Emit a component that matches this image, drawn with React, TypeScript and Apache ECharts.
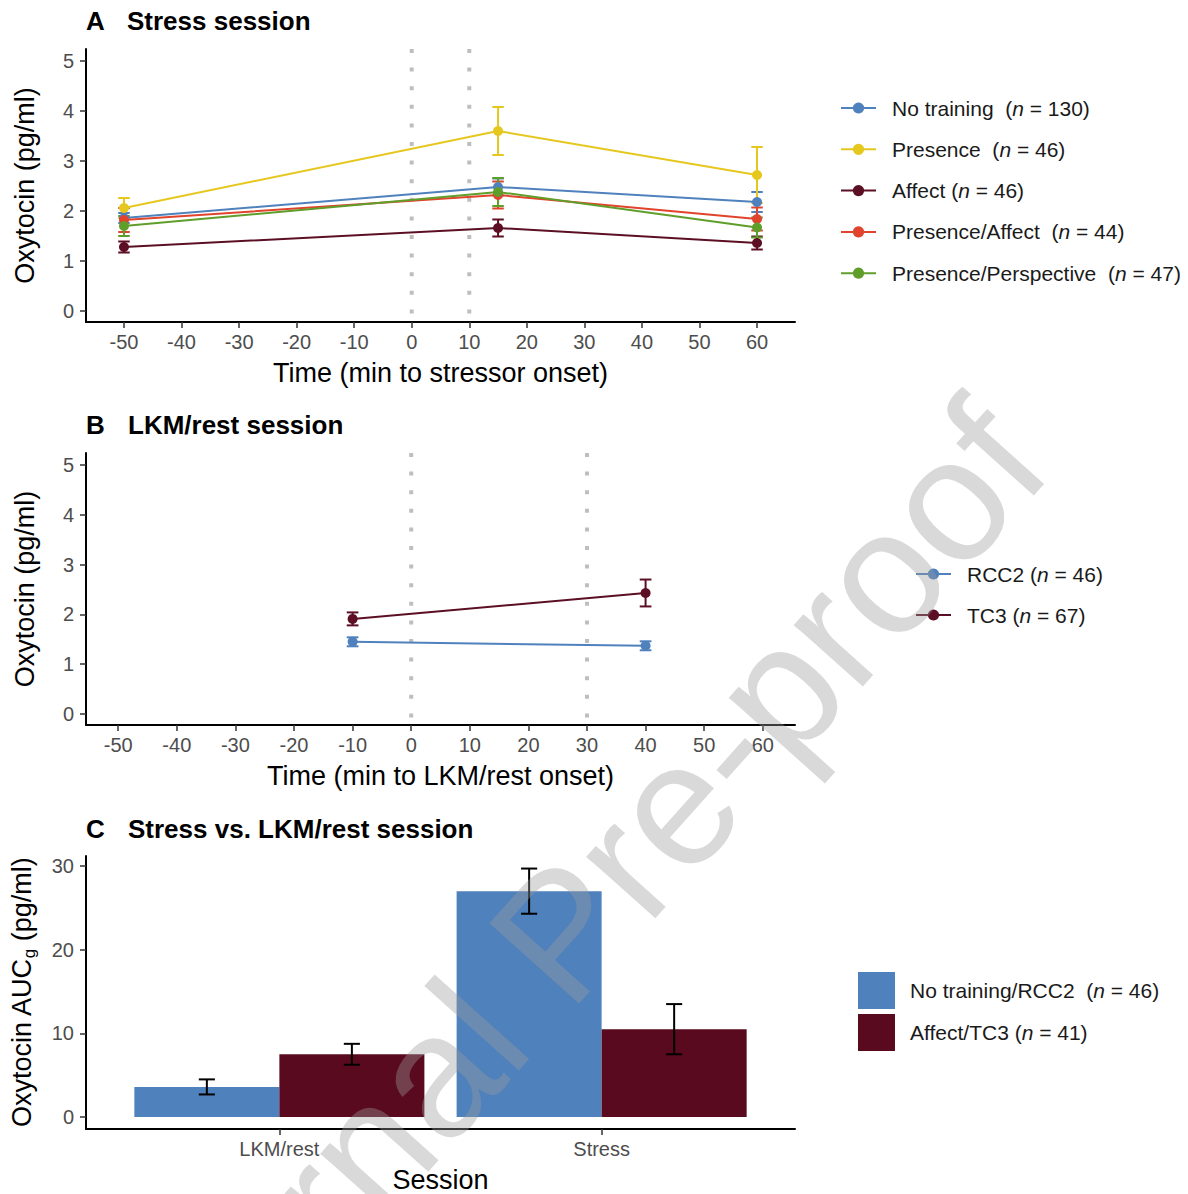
import React, { useEffect, useRef } from 'react';
import * as echarts from 'echarts';

// ---------- Panel A: Stress session ----------
const timeA = [-50, 15, 60];
const ticksX = [-50, -40, -30, -20, -10, 0, 10, 20, 30, 40, 50, 60];
const ticksY = [0, 1, 2, 3, 4, 5];
const vlinesA = [0, 10];
const groupsA = ['No training', 'Presence', 'Affect', 'Presence/Affect', 'Presence/Perspective'];
const nA = [130, 46, 46, 44, 47];
const gapA = ['\u00a0 ', '\u00a0 ', ' ', '\u00a0 ', '\u00a0 '];
const colorsA = ['#4F81BD', '#E6C71E', '#5C0F24', '#E0442C', '#5F9E2A'];
const meanNoTraining = [1.86, 2.48, 2.18];
const seNoTraining = [0.1, 0.17, 0.2];
const meanPresence = [2.06, 3.6, 2.72];
const sePresence = [0.2, 0.48, 0.56];
const meanAffect = [1.28, 1.66, 1.36];
const seAffect = [0.11, 0.17, 0.13];
const meanPresAff = [1.82, 2.32, 1.84];
const sePresAff = [0.24, 0.27, 0.23];
const meanPresPersp = [1.7, 2.38, 1.67];
const sePresPersp = [0.2, 0.28, 0.2];
const meansA = [meanNoTraining, meanPresence, meanAffect, meanPresAff, meanPresPersp];
const sesA = [seNoTraining, sePresence, seAffect, sePresAff, sePresPersp];

// ---------- Panel B: LKM/rest session ----------
const timeB = [-10, 40];
const vlinesB = [0, 30];
const groupsB = ['RCC2', 'TC3'];
const nB = [46, 67];
const colorsB = ['#4F81BD', '#5C0F24'];
const meanRCC2 = [1.45, 1.37];
const seRCC2 = [0.09, 0.09];
const meanTC3 = [1.91, 2.43];
const seTC3 = [0.13, 0.27];
const meansB = [meanRCC2, meanTC3];
const sesB = [seRCC2, seTC3];

// ---------- Panel C: AUCg ----------
const sessions = ['LKM/rest', 'Stress'];
const ticksC = [0, 10, 20, 30];
const groupsC = ['No training/RCC2', 'Affect/TC3'];
const nC = [46, 41];
const gapC = ['\u00a0 ', ' '];
const colorsC = ['#4F81BD', '#5A0A1E'];
const aucNoTraining = [3.6, 27.0];
const seAucNoTraining = [0.9, 2.7];
const aucAffect = [7.5, 10.5];
const seAucAffect = [1.25, 3.0];
const aucs = [aucNoTraining, aucAffect];
const seAucs = [seAucNoTraining, seAucAffect];
const dodge = [-0.225, 0.225];

const FONT = "'Liberation Sans', Arial, sans-serif";

function errRender(capHalf: number, color: string, lw: number) {
  return (params: any, api: any) => {
    const x = api.value(0);
    const lo = api.value(1);
    const hi = api.value(2);
    const top = api.coord([x, hi]);
    const bot = api.coord([x, lo]);
    const half = api.size([capHalf, 0])[0];
    const st = { stroke: color, lineWidth: lw };
    return {
      type: 'group',
      children: [
        { type: 'line', shape: { x1: top[0], y1: top[1], x2: bot[0], y2: bot[1] }, style: st },
        { type: 'line', shape: { x1: top[0] - half, y1: top[1], x2: top[0] + half, y2: top[1] }, style: st },
        { type: 'line', shape: { x1: bot[0] - half, y1: bot[1], x2: bot[0] + half, y2: bot[1] }, style: st },
      ],
    };
  };
}

function vlineRender(params: any, api: any) {
  const cs = params.coordSys;
  const x = api.coord([api.value(0), 0])[0];
  return {
    type: 'line',
    shape: { x1: x, y1: cs.y, x2: x, y2: cs.y + cs.height },
    style: { stroke: '#BEBEBE', lineWidth: 4, lineDash: [4, 14.6] },
  };
}

function barRender(offset: number, color: string) {
  return (params: any, api: any) => {
    const c = api.value(0);
    const v = api.value(1);
    const p0 = api.coord([c + offset - 0.225, v]);
    const p1 = api.coord([c + offset + 0.225, 0]);
    return {
      type: 'rect',
      shape: { x: p0[0], y: p0[1], width: p1[0] - p0[0], height: p1[1] - p0[1] },
      style: { fill: color },
    };
  };
}

const axisLineCfg = { show: true, onZero: false, lineStyle: { color: '#000', width: 2 } };
const tickStyle = { color: '#333', width: 1.5 };
const labelStyle = { color: '#4D4D4D', fontSize: 20, fontFamily: FONT };
const nameStyle = { color: '#000', fontSize: 27, fontFamily: FONT };

function xValueAxis(gridIndex: number, min: number, max: number, name: string) {
  return {
    type: 'value',
    gridIndex,
    min,
    max,
    name,
    nameLocation: 'middle',
    nameGap: 37,
    nameTextStyle: nameStyle,
    axisLine: axisLineCfg,
    axisTick: { show: true, length: 6, lineStyle: tickStyle, customValues: ticksX },
    axisLabel: { ...labelStyle, margin: 10, customValues: ticksX },
    splitLine: { show: false },
  };
}

function yValueAxis(gridIndex: number, min: number, max: number, ticks: number[], name: string) {
  return {
    type: 'value',
    gridIndex,
    min,
    max,
    name,
    nameLocation: 'middle',
    nameGap: 48,
    nameTextStyle: { ...nameStyle, rich: {
      a: { fontSize: 27, color: '#000', fontFamily: FONT, lineHeight: 30, verticalAlign: 'top' },
      s: { fontSize: 17, color: '#000', fontFamily: FONT, lineHeight: 30, verticalAlign: 'bottom' },
    } },
    axisLine: axisLineCfg,
    axisTick: { show: true, length: 6, lineStyle: tickStyle, customValues: ticks },
    axisLabel: { ...labelStyle, margin: 12, customValues: ticks },
    splitLine: { show: false },
  };
}

const legendRich = {
  p: { fontSize: 21, color: '#1A1A1A', fontFamily: FONT, padding: [0, 0, 0, 11] },
  t: { fontSize: 21, color: '#1A1A1A', fontFamily: FONT },
  i: { fontSize: 21, color: '#1A1A1A', fontFamily: FONT, fontStyle: 'italic' },
};

function App() {
  const ref = useRef<HTMLDivElement>(null);
  useEffect(() => {
    if (!ref.current) return;
    const chart = echarts.init(ref.current, undefined, { renderer: 'svg' });

    const series: any[] = [];
    // Panel A lines (first so legend uses line icons)
    groupsA.forEach((g, k) => {
      series.push({
        type: 'line', name: g, xAxisIndex: 0, yAxisIndex: 0, z: 3,
        data: timeA.map((t, i) => [t, meansA[k][i]]),
        symbol: 'circle', symbolSize: 10,
        itemStyle: { color: colorsA[k] },
        lineStyle: { color: colorsA[k], width: 2 },
      });
      series.push({
        type: 'custom', name: g + ' error', xAxisIndex: 0, yAxisIndex: 0, z: 2,
        itemStyle: { color: colorsA[k] },
        data: timeA.map((t, i) => [t, meansA[k][i] - sesA[k][i], meansA[k][i] + sesA[k][i]]),
        encode: { x: 0, y: [1, 2] },
        renderItem: errRender(1, colorsA[k], 2),
      });
    });
    // Panel B
    groupsB.forEach((g, k) => {
      series.push({
        type: 'line', name: g, xAxisIndex: 1, yAxisIndex: 1, z: 3,
        data: timeB.map((t, i) => [t, meansB[k][i]]),
        symbol: 'circle', symbolSize: 10,
        itemStyle: { color: colorsB[k] },
        lineStyle: { color: colorsB[k], width: 2 },
      });
      series.push({
        type: 'custom', name: g + ' error', xAxisIndex: 1, yAxisIndex: 1, z: 2,
        itemStyle: { color: colorsB[k] },
        data: timeB.map((t, i) => [t, meansB[k][i] - sesB[k][i], meansB[k][i] + sesB[k][i]]),
        encode: { x: 0, y: [1, 2] },
        renderItem: errRender(1, colorsB[k], 2),
      });
    });
    // vertical dotted lines
    series.push({
      type: 'custom', name: '_vA', xAxisIndex: 0, yAxisIndex: 0, silent: true, z: 1,
      data: vlinesA.map((v) => [v, 0]), encode: { x: 0, y: 1 }, renderItem: vlineRender,
    });
    series.push({
      type: 'custom', name: '_vB', xAxisIndex: 1, yAxisIndex: 1, silent: true, z: 1,
      data: vlinesB.map((v) => [v, 0]), encode: { x: 0, y: 1 }, renderItem: vlineRender,
    });
    // Panel C
    groupsC.forEach((g, k) => {
      series.push({
        type: 'custom', name: g, xAxisIndex: 2, yAxisIndex: 2, z: 2,
        itemStyle: { color: colorsC[k] },
        data: sessions.map((s, i) => [i + 1, aucs[k][i]]),
        encode: { x: 0, y: 1 },
        renderItem: barRender(dodge[k], colorsC[k]),
      });
    });
    groupsC.forEach((g, k) => {
      series.push({
        type: 'custom', name: g + ' error', xAxisIndex: 2, yAxisIndex: 2, z: 3,
        data: sessions.map((s, i) => [i + 1 + dodge[k], aucs[k][i] - seAucs[k][i], aucs[k][i] + seAucs[k][i]]),
        encode: { x: 0, y: [1, 2] },
        renderItem: errRender(0.025, '#000', 2),
      });
    });

    const titleText = (x: number, y: number, text: string) => ({
      type: 'text', x, y, z: 10,
      style: { text, fontSize: 26, fontWeight: 'bold', fontFamily: FONT, fill: '#000', textVerticalAlign: 'middle' },
    });

    const option: any = {
      animation: false,
      backgroundColor: '#fff',
      textStyle: { fontFamily: FONT },
      grid: [
        { left: 86, top: 49, width: 709, height: 273, outerBoundsMode: 'none', containLabel: false },
        { left: 86, top: 453, width: 709, height: 272, outerBoundsMode: 'none', containLabel: false },
        { left: 86, top: 856, width: 709, height: 273, outerBoundsMode: 'none', containLabel: false },
      ],
      xAxis: [
        xValueAxis(0, -56.6, 66.6, 'Time (min to stressor onset)'),
        xValueAxis(1, -55.5, 65.5, 'Time (min to LKM/rest onset)'),
        {
          type: 'value', gridIndex: 2, min: 0.4, max: 2.6,
          name: 'Session', nameLocation: 'middle', nameGap: 37, nameTextStyle: nameStyle,
          axisLine: axisLineCfg,
          axisTick: { show: true, length: 6, lineStyle: tickStyle, customValues: [1, 2] },
          axisLabel: { ...labelStyle, margin: 10, customValues: [1, 2], formatter: (v: number) => sessions[Math.round(v) - 1] || '' },
          splitLine: { show: false },
        },
      ],
      yAxis: [
        yValueAxis(0, -0.22, 5.24, ticksY, 'Oxytocin (pg/ml)'),
        yValueAxis(1, -0.22, 5.24, ticksY, 'Oxytocin (pg/ml)'),
        yValueAxis(2, -1.43, 31.2, ticksC, '{a|Oxytocin AUC}{s|g}{a| (pg/ml)}'),
      ],
      legend: [
        {
          orient: 'vertical', left: 840, top: 97.5, padding: 0, itemWidth: 35, itemHeight: 14, itemGap: 20.3,
          data: groupsA, selectedMode: false,
          formatter: (name: string) => {
            const i = groupsA.indexOf(name);
            return `{p|${name}}{t|${gapA[i]}(}{i|n}{t| = ${nA[i]})}`;
          },
          textStyle: { rich: legendRich },
        },
        {
          orient: 'vertical', left: 915, top: 563.5, padding: 0, itemWidth: 35, itemHeight: 14, itemGap: 20,
          data: groupsB, selectedMode: false,
          formatter: (name: string) => {
            const i = groupsB.indexOf(name);
            return `{p|${name}}{t| (}{i|n}{t| = ${nB[i]})}`;
          },
          textStyle: { rich: legendRich },
        },
        {
          orient: 'vertical', left: 858, top: 972, padding: 0, itemWidth: 37, itemHeight: 37, itemGap: 5,
          data: groupsC.map((g, k) => ({ name: g, icon: 'rect', itemStyle: { color: colorsC[k] } })),
          selectedMode: false,
          formatter: (name: string) => {
            const i = groupsC.indexOf(name);
            return `{p|${name}}{t|${gapC[i]}(}{i|n}{t| = ${nC[i]})}`;
          },
          textStyle: { rich: { ...legendRich, p: { ...legendRich.p, padding: [0, 0, 0, 10] } } },
        },
      ],
      graphic: [
        titleText(86, 21, 'A'),
        titleText(127, 21, 'Stress session'),
        titleText(86, 425, 'B'),
        titleText(128, 425, 'LKM/rest session'),
        titleText(86, 829, 'C'),
        titleText(128, 829, 'Stress vs. LKM/rest session'),
        {
          type: 'text', x: 560, y: 934, rotation: 0.84, z: 100, silent: true,
          style: {
            text: 'Journal Pre-proof', fontSize: 175, fontFamily: FONT,
            fill: '#9A9A9A', opacity: 0.38,
            textAlign: 'center', textVerticalAlign: 'middle',
          },
        },
      ],
      series,
    };
    chart.setOption(option);
    return () => chart.dispose();
  }, []);
  return (
    <div
      ref={ref}
      style={{ position: 'absolute', left: 0, top: 0, width: 1188, height: 1194, background: '#fff' }}
    />
  );
}

export default App;
